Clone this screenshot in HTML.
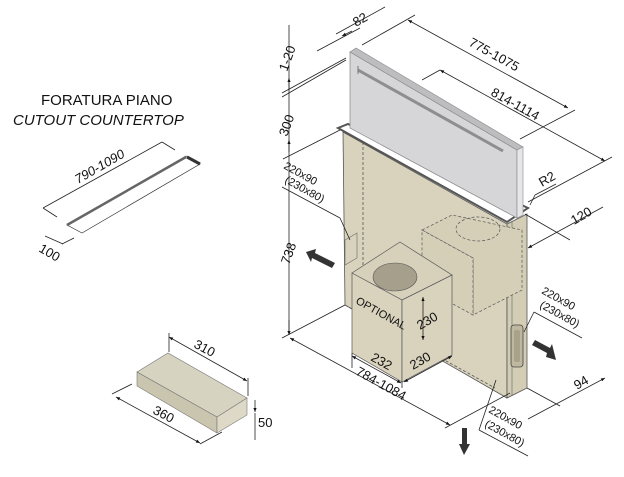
<!DOCTYPE html>
<html><head><meta charset="utf-8"><style>
html,body{margin:0;padding:0;background:#fff;}
svg{display:block;font-family:"Liberation Sans",sans-serif;}
text{fill:#111;font-size:12px;}
.d{stroke:#222;stroke-width:0.8;fill:none;}
.dash{stroke:#555;stroke-width:0.8;fill:none;stroke-dasharray:3 2;}
</style></head><body>
<svg width="624" height="477" viewBox="0 0 624 477" xmlns="http://www.w3.org/2000/svg">
<defs><marker id="a" viewBox="0 0 10 10" refX="10" refY="5" markerWidth="7" markerHeight="5" orient="auto-start-reverse"><path d="M0,1 L10,5 L0,9z" fill="#111"/></marker></defs>

<text x="41" y="105" style="font-size:15px">FORATURA PIANO</text>
<text x="13" y="125" style="font-size:15px;font-style:italic">CUTOUT COUNTERTOP</text>

<!-- cutout slot -->
<polygon points="67,225 186,156 200,164 82,233" fill="#fff" stroke="#333" stroke-width="0.7"/>
<line x1="67" y1="225" x2="186" y2="157" stroke="#666" stroke-width="2.5"/>
<line x1="187" y1="157" x2="200" y2="164" stroke="#333" stroke-width="3"/>
<line class="d" x1="43" y1="208" x2="162" y2="142"/>
<line class="d" x1="43" y1="208" x2="57" y2="217"/>
<line class="d" x1="162" y1="142" x2="175" y2="150"/>
<text transform="translate(78,184) rotate(-30)" style="font-style:italic;font-size:13px">790-1090</text>
<line class="d" x1="45" y1="236" x2="63" y2="244"/>
<line class="d" x1="62" y1="244" x2="74" y2="238"/>
<text transform="translate(38,251) rotate(30)" style="font-size:13px">100</text>

<!-- small box -->
<polygon points="137,372 168,353 247,398 217,417" fill="#d6d3c0" stroke="#777" stroke-width="0.6"/>
<polygon points="137,372 217,417 217,433 137,386" fill="#c9c5ae" stroke="#777" stroke-width="0.6"/>
<polygon points="217,417 247,398 247,415 217,433" fill="#ddd9c6" stroke="#777" stroke-width="0.6"/>
<line class="d" x1="169" y1="333" x2="169" y2="352"/>
<line class="d" x1="248" y1="378" x2="248" y2="396"/>
<line class="d" x1="169" y1="337" x2="247" y2="381" marker-start="url(#a)" marker-end="url(#a)"/>
<text transform="translate(193,347) rotate(28)" style="font-size:13px">310</text>
<line class="d" x1="112" y1="394" x2="132" y2="384"/>
<line class="d" x1="116" y1="397" x2="200" y2="443" marker-start="url(#a)" marker-end="url(#a)"/>
<line class="d" x1="200" y1="444" x2="222" y2="432"/>
<text transform="translate(152,413) rotate(28)" style="font-size:13px">360</text>
<line class="d" x1="255" y1="413" x2="255" y2="440"/>
<line class="d" x1="255" y1="400" x2="255" y2="412" marker-end="url(#a)"/>
<text x="258" y="427" style="font-size:13px">50</text>

<!-- main body -->
<polygon points="343,132 507,224 507,398 345,305" fill="#d9d3bd" stroke="#555" stroke-width="0.8"/>
<polygon points="507,224 527,214 527,388 507,398" fill="#d3cdb5" stroke="#555" stroke-width="0.8"/>
<line x1="512" y1="222" x2="512" y2="396" stroke="#666" stroke-width="0.6"/>
<line class="dash" x1="363" y1="142" x2="363" y2="295"/>
<line class="dash" x1="345" y1="305" x2="495" y2="388"/>
<polygon points="345,240 357,233 357,258 345,265" fill="none" stroke="#666" stroke-width="0.6"/>
<rect x="511" y="325" width="12" height="42" rx="3" fill="#bfb8a0" stroke="#444" stroke-width="0.8"/>
<rect x="514" y="330" width="6" height="32" rx="2" fill="#a9a28a"/>
<polygon points="338,128 348,124 528,208 507,222" fill="none" stroke="#555" stroke-width="2"/>

<!-- hood -->
<polygon points="350,52 517,150 517,218 350,128" fill="#d6d6d8" stroke="#888" stroke-width="0.7"/>
<polygon points="350,52 356,48 523,147 517,150" fill="#bdbdc0" stroke="#888" stroke-width="0.6"/>
<polygon points="517,150 523,147 523,215 517,218" fill="#e6e6e8" stroke="#888" stroke-width="0.6"/>
<line x1="358" y1="70" x2="503" y2="151" stroke="#8e8e92" stroke-width="3"/>
<line x1="358" y1="66" x2="358" y2="74" stroke="#777" stroke-width="1"/>

<!-- dashed back box -->
<polygon points="422,230 452,215 522,230 522,290 473,315 473,258" fill="#d5cfb8" stroke="#555" stroke-width="0.7" stroke-dasharray="3 2"/>
<polygon points="422,230 473,258 473,315 422,287" fill="#d5cfb8" stroke="#555" stroke-width="0.7" stroke-dasharray="3 2"/>
<ellipse cx="478" cy="229" rx="22" ry="12" fill="none" stroke="#555" stroke-width="0.7" stroke-dasharray="3 2"/>

<!-- optional box -->
<polygon points="352,273 400,242 452,275 404,306" fill="#d7d1bb" stroke="#555" stroke-width="0.7"/>
<ellipse cx="395" cy="277" rx="22" ry="14" fill="#a59f8c" stroke="#555" stroke-width="0.6"/>
<polygon points="352,273 402,300 402,382 352,353" fill="#d9d3bd" stroke="#555" stroke-width="0.7"/>
<polygon points="402,300 452,275 452,355 402,382" fill="#d9d3bd" stroke="#555" stroke-width="0.7"/>
<text transform="translate(355,303) rotate(29)" style="font-size:11px">OPTIONAL</text>
<line class="d" x1="423" y1="297" x2="423" y2="340" marker-start="url(#a)" marker-end="url(#a)"/>
<text transform="translate(420,330) rotate(-30)" style="font-size:13px">230</text>

<line class="d" x1="352" y1="353" x2="352" y2="368"/>
<line class="d" x1="402" y1="382" x2="402" y2="388"/>
<line class="d" x1="352" y1="356" x2="401" y2="383" marker-start="url(#a)" marker-end="url(#a)"/>
<text transform="translate(370,360) rotate(29)" style="font-size:13px">232</text>
<line class="d" x1="404" y1="382" x2="452" y2="356" marker-start="url(#a)" marker-end="url(#a)"/>
<text transform="translate(413,370) rotate(-30)" style="font-size:13px">230</text>

<line class="d" x1="289" y1="25" x2="289" y2="335"/>
<line class="d" x1="289" y1="78" x2="289" y2="90" marker-start="url(#a)"/>
<line class="d" x1="289" y1="140" x2="289" y2="152" marker-start="url(#a)"/>
<line class="d" x1="289" y1="320" x2="289" y2="335" marker-end="url(#a)"/>
<line class="d" x1="282" y1="93" x2="346" y2="58"/>
<line class="d" x1="282" y1="97" x2="346" y2="60"/>
<line class="d" x1="283" y1="159" x2="340" y2="130"/>
<line class="d" x1="282" y1="338" x2="345" y2="305"/>
<text transform="translate(287,72) rotate(-70)" style="font-size:13px">1-20</text>
<text transform="translate(287,137) rotate(-70)" style="font-size:13px">300</text>
<text transform="translate(289,265) rotate(-70)" style="font-size:13px">738</text>
<line class="d" x1="317" y1="51" x2="360" y2="28"/>
<line class="d" x1="336" y1="34" x2="385" y2="7"/>
<line class="d" x1="342" y1="36" x2="352" y2="31" marker-start="url(#a)"/>
<text transform="translate(356,27) rotate(-30)" style="font-size:13px">82</text>
<line class="d" x1="362" y1="45" x2="415" y2="15"/>
<line class="d" x1="408" y1="20" x2="568" y2="108" marker-start="url(#a)" marker-end="url(#a)"/>
<line class="d" x1="520" y1="139" x2="575" y2="110"/>
<text transform="translate(468,45) rotate(29)" style="font-size:13px">775-1075</text>
<line class="d" x1="422" y1="80" x2="440" y2="70"/>
<line class="d" x1="440" y1="70" x2="605" y2="161" marker-start="url(#a)" marker-end="url(#a)"/>
<line class="d" x1="528" y1="202" x2="612" y2="157"/>
<text transform="translate(490,95) rotate(29)" style="font-size:13px">814-1114</text>
<text transform="translate(542,187) rotate(-30)" style="font-size:13px">R2</text>
<line class="d" x1="535" y1="195" x2="556" y2="184"/>
<line class="d" x1="535" y1="195" x2="530" y2="205"/>
<line class="d" x1="525" y1="214" x2="570" y2="240"/>
<line class="d" x1="528" y1="248" x2="603" y2="207" marker-start="url(#a)"/>
<text transform="translate(574,225) rotate(-30)" style="font-size:13px">120</text>
<text transform="translate(283,168) rotate(29)" style="font-size:11px">220x90</text>
<text transform="translate(284,182) rotate(29)" style="font-size:11px">(230x80)</text>
<line class="d" x1="282" y1="187" x2="340" y2="218"/>
<line class="d" x1="340" y1="218" x2="350" y2="240"/>
<text transform="translate(541,293) rotate(29)" style="font-size:11px">220x90</text>
<text transform="translate(539,307) rotate(29)" style="font-size:11px">(230x80)</text>
<line class="d" x1="534" y1="312" x2="582" y2="338"/>
<line class="d" x1="534" y1="312" x2="524" y2="332"/>
<line class="d" x1="290" y1="338" x2="450" y2="425" marker-start="url(#a)" marker-end="url(#a)"/>
<line class="d" x1="445" y1="428" x2="510" y2="393"/>
<text transform="translate(355,374) rotate(29)" style="font-size:13px">784-1084</text>
<line class="d" x1="527" y1="388" x2="560" y2="406"/>
<line class="d" x1="528" y1="419" x2="605" y2="378" marker-end="url(#a)"/>
<text transform="translate(577,390) rotate(-30)" style="font-size:13px">94</text>
<text transform="translate(488,412) rotate(29)" style="font-size:11px">220x90</text>
<text transform="translate(484,426) rotate(29)" style="font-size:11px">(230x80)</text>
<line class="d" x1="479" y1="430" x2="528" y2="456"/>
<line class="d" x1="479" y1="430" x2="496" y2="380"/>

<polygon points="306,252 316,249 315,253 335,263 332,268 312,258 311,262" fill="#333"/>
<polygon points="556,360 546,357 547,353 532,345 535,340 550,348 552,344" fill="#333"/>
<polygon points="464,455 459,444 462,444 462,428 467,428 467,444 470,444" fill="#333"/>
</svg>
</body></html>
